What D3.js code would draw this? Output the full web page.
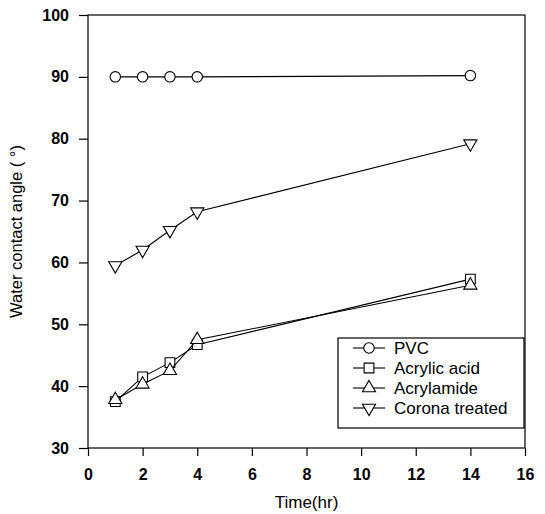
<!DOCTYPE html>
<html>
<head>
<meta charset="utf-8">
<script src="https://cdn.jsdelivr.net/npm/d3@7"></script>
<style>
  body { margin: 0; background: #fff; }
  svg { display: block; }
</style>
</head>
<body>
<script>
// data
const times = [1, 2, 3, 4, 14];
const pvc = [90, 90, 90, 90, 90.2];
const acrylicAcid = [37.5, 41.5, 43.8, 46.7, 57.3];
const acrylamide = [37.8, 40.3, 42.5, 47.5, 56.3];
const corona = [59.5, 62, 65.2, 68.2, 79.2];
const seriesNames = ["PVC", "Acrylic acid", "Acrylamide", "Corona treated"];
const xTicks = [0, 2, 4, 6, 8, 10, 12, 14, 16];
const yTicks = [30, 40, 50, 60, 70, 80, 90, 100];

const width = 545, height = 514;
const margin = {left: 88, right: 20, top: 15, bottom: 66};

const svg = d3.select("body").append("svg")
    .attr("width", width)
    .attr("height", height);

const x = d3.scaleLinear().domain([0, 16]).range([margin.left, width - margin.right]);
const y = d3.scaleLinear().domain([30, 100]).range([height - margin.bottom, margin.top]);

// frame
svg.append("rect")
    .attr("x", x(0)).attr("y", y(100))
    .attr("width", x(16) - x(0)).attr("height", y(30) - y(100))
    .attr("fill", "none").attr("stroke", "#000").attr("stroke-width", 1.2);

// axes
const xAxis = svg.append("g")
    .attr("transform", `translate(0,${y(30)})`)
    .call(d3.axisBottom(x).tickValues(xTicks).tickSize(8).tickPadding(13).tickFormat(d3.format("d")));
const yAxis = svg.append("g")
    .attr("transform", `translate(${x(0)},0)`)
    .call(d3.axisLeft(y).tickValues(yTicks).tickSize(9).tickPadding(10).tickFormat(d3.format("d")));

[xAxis, yAxis].forEach(a => {
  a.select(".domain").remove();
  a.selectAll("line").attr("stroke", "#000").attr("stroke-width", 1.2);
  a.selectAll("text")
      .attr("fill", "#000")
      .style("font", "bold 16px 'Liberation Sans', Arial, sans-serif");
});

// titles
svg.append("text")
    .attr("x", (x(0) + x(16)) / 2 + 0).attr("y", 508)
    .attr("text-anchor", "middle")
    .style("font", "17px 'Liberation Sans', Arial, sans-serif")
    .text("Time(hr)");
svg.append("text")
    .attr("transform", `translate(22,${(y(30) + y(100)) / 2}) rotate(-90)`)
    .attr("text-anchor", "middle")
    .style("font", "16.5px 'Liberation Sans', Arial, sans-serif")
    .text("Water contact angle ( °)");

// markers
const sym = [
  d3.symbol().type(d3.symbolCircle).size(85),
  d3.symbol().type(d3.symbolSquare).size(95),
  d3.symbol().type(d3.symbolTriangle).size(75),
  d3.symbol().type(d3.symbolTriangle).size(75)
];
const rot = [0, 0, 0, 180];
const allSeries = [pvc, acrylicAcid, acrylamide, corona];

const line = d3.line().x(d => x(d[0])).y(d => y(d[1]));

allSeries.forEach((vals, i) => {
  const pts = times.map((t, j) => [t, vals[j]]);
  svg.append("path")
      .attr("d", line(pts))
      .attr("fill", "none").attr("stroke", "#000").attr("stroke-width", 1.1);
  svg.selectAll(null)
      .data(pts)
      .enter().append("path")
      .attr("d", sym[i]())
      .attr("transform", d => `translate(${x(d[0])},${y(d[1])}) rotate(${rot[i]})`)
      .attr("fill", "#fff").attr("stroke", "#000").attr("stroke-width", 1.1);
});

// legend
const lg = svg.append("g").attr("transform", "translate(338,338)");
lg.append("rect")
    .attr("width", 186).attr("height", 90)
    .attr("fill", "#fff").attr("stroke", "#000").attr("stroke-width", 1.2);
seriesNames.forEach((name, i) => {
  const yy = 10 + i * 20;
  lg.append("line")
      .attr("x1", 15).attr("x2", 47).attr("y1", yy).attr("y2", yy)
      .attr("stroke", "#000").attr("stroke-width", 1.1);
  lg.append("path")
      .attr("d", sym[i]())
      .attr("transform", `translate(31,${yy}) rotate(${rot[i]})`)
      .attr("fill", "#fff").attr("stroke", "#000").attr("stroke-width", 1.1);
  lg.append("text")
      .attr("x", 56).attr("y", yy + 6)
      .style("font", "17px 'Liberation Sans', Arial, sans-serif")
      .text(name);
});
</script>
</body>
</html>
